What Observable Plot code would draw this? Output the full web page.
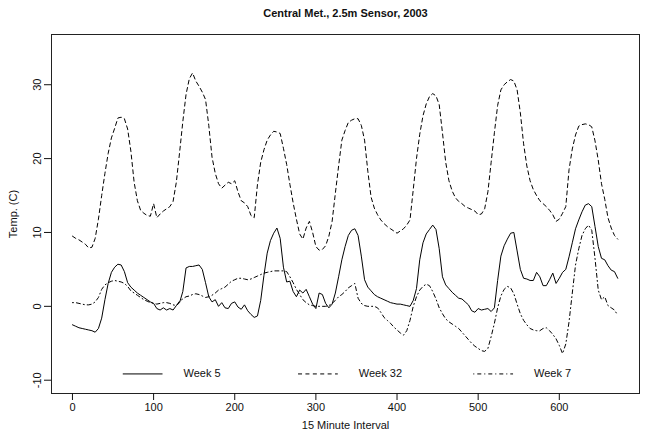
<!DOCTYPE html>
<html>
<head>
<meta charset="utf-8">
<script src="https://cdn.jsdelivr.net/npm/d3@7"></script>
<script src="https://cdn.jsdelivr.net/npm/@observablehq/plot@0.6"></script>
<style>
  html, body { margin: 0; padding: 0; background: #fff; }
  #chart svg { display: block; }
</style>
</head>
<body>
<div id="chart"></div>
<script>
// 15-minute interval index (sampled every 4 intervals)
const intervals = [
  0,4,8,12,16,20,24,28,32,36, 40,44,48,52,56,60,64,68,72,76,
  80,84,88,92,96,100,104,108,112,116, 120,124,128,132,136,140,144,148,152,156,
  160,164,168,172,176,180,184,188,192,196, 200,204,208,212,216,220,224,228,232,236,
  240,244,248,252,256,260,264,268,272,276, 280,284,288,292,296,300,304,308,312,316,
  320,324,328,332,336,340,344,348,352,356, 360,364,368,372,376,380,384,388,392,396,
  400,404,408,412,416,420,424,428,432,436, 440,444,448,452,456,460,464,468,472,476,
  480,484,488,492,496,500,504,508,512,516, 520,524,528,532,536,540,544,548,552,556,
  560,564,568,572,576,580,584,588,592,596, 600,604,608,612,616,620,624,628,632,636,
  640,644,648,652,656,660,664,668,672];

const week5 = [
  -2.5,-2.7,-2.9,-3.0,-3.1,-3.2,-3.3,-3.5,-3.0,-1.6,
  0.9,3.1,4.6,5.3,5.7,5.6,4.7,3.2,2.6,2.2,
  1.8,1.5,1.2,0.9,0.6,0.4,-0.3,-0.5,-0.2,-0.5,
  -0.3,-0.5,0.1,0.5,2.0,5.2,5.4,5.4,5.5,5.6,
  5.0,3.2,1.3,0.6,0.9,0.0,0.5,-0.2,-0.3,0.4,
  0.6,-0.1,-0.4,0.2,-0.6,-1.1,-1.5,-1.3,0.8,4.2,
  7.2,8.9,9.9,10.6,9.2,5.3,3.3,3.4,2.0,1.3,
  2.2,1.8,2.3,1.3,0.3,-0.3,1.8,1.6,0.4,-0.2,
  0.3,1.8,4.0,6.3,8.1,9.6,10.3,10.5,9.6,6.8,
  3.6,2.6,2.1,1.6,1.3,1.1,0.9,0.7,0.5,0.4,
  0.3,0.3,0.2,0.1,0.0,0.8,2.4,6.3,8.6,9.8,
  10.4,11.0,10.4,7.8,4.0,2.9,2.4,1.9,1.5,1.1,
  1.0,0.6,0.2,-0.6,-0.8,-0.3,-0.5,-0.4,-0.3,-0.7,
  -0.2,3.5,6.8,8.2,9.1,9.9,10.0,7.5,5.0,3.8,
  3.7,3.5,3.5,4.6,4.0,2.8,2.8,3.6,4.5,3.1,
  3.8,4.6,5.0,6.7,8.6,10.5,11.7,12.8,13.7,13.9,
  13.5,10.8,8.1,6.5,6.3,5.5,4.9,4.7,3.8];

const week32 = [
  9.5,9.2,9.0,8.7,8.4,7.9,8.0,9.2,11.8,15.0,
  18.0,20.7,22.8,24.1,25.5,25.6,25.4,24.0,21.0,16.8,
  14.3,13.0,12.6,12.3,12.2,13.9,12.0,12.5,12.9,13.2,
  13.5,14.2,16.8,20.8,25.0,28.7,30.8,31.6,30.5,29.8,
  29.0,28.0,24.5,20.2,18.0,16.6,16.0,16.4,16.8,16.6,
  17.0,15.5,14.3,14.0,13.5,12.3,12.0,16.5,19.5,21.2,
  22.5,23.2,23.7,23.6,23.4,21.4,19.2,16.5,14.0,11.8,
  9.8,9.1,10.6,11.5,10.0,8.1,7.6,7.7,8.2,9.5,
  11.5,15.3,19.0,22.5,23.8,24.9,25.2,25.4,25.4,24.5,
  22.5,18.3,14.8,13.3,12.4,11.7,11.2,10.8,10.5,10.2,
  9.9,10.2,10.5,11.0,11.7,15.8,20.0,23.3,25.8,27.4,
  28.4,28.8,28.5,27.3,23.5,19.5,17.0,15.6,14.7,14.2,
  13.9,13.5,13.3,13.1,12.9,12.4,12.5,13.2,15.5,19.5,
  23.5,27.2,29.3,30.0,30.4,30.7,30.5,29.3,26.2,22.0,
  19.0,17.0,15.8,15.0,14.3,13.9,13.5,13.0,12.4,11.5,
  11.8,12.6,13.5,18.5,21.3,23.2,24.4,24.6,24.7,24.6,
  24.3,22.4,19.8,16.6,14.5,12.0,10.6,9.6,9.1];

const week7 = [
  0.5,0.5,0.4,0.3,0.2,0.2,0.3,0.6,1.2,2.3,
  2.9,3.2,3.4,3.5,3.4,3.3,3.1,2.7,2.1,1.8,
  1.5,1.2,0.9,0.7,0.5,0.4,0.3,0.4,0.5,0.5,
  0.4,0.2,0.1,0.7,1.0,1.3,1.4,1.6,1.7,1.6,
  1.4,1.2,1.3,1.5,1.8,2.2,2.4,2.6,3.0,3.4,
  3.6,3.8,3.8,3.7,3.6,3.7,3.9,4.1,4.3,4.5,
  4.6,4.7,4.8,4.8,4.8,4.8,4.7,4.0,3.2,2.3,
  1.6,0.9,0.5,0.2,0.1,0.0,0.0,0.0,0.0,0.1,
  0.4,0.8,1.3,1.6,2.0,2.5,2.8,3.1,1.1,0.4,
  0.1,0.0,0.0,0.0,-0.2,-0.8,-1.5,-1.9,-2.3,-2.8,
  -3.2,-3.6,-3.9,-3.3,-1.9,0.0,1.3,2.2,2.7,3.0,
  2.8,2.0,1.0,-0.2,-1.0,-1.7,-2.1,-2.4,-2.7,-3.0,
  -3.5,-4.0,-4.5,-5.0,-5.4,-5.7,-6.0,-6.1,-5.7,-4.1,
  -2.3,-0.2,1.4,2.3,2.7,2.5,1.7,0.3,-1.0,-1.9,
  -2.5,-3.0,-3.2,-3.3,-3.3,-3.0,-2.9,-3.3,-3.8,-4.4,
  -5.3,-6.4,-5.1,-2.1,1.8,5.6,7.8,9.6,10.5,11.0,
  10.3,6.5,2.2,0.9,1.3,0.1,-0.2,-0.5,-1.2];

const seriesNames = ["Week 5", "Week 32", "Week 7"];
const xTicks = [0, 100, 200, 300, 400, 500, 600];
const yTicks = [-10, 0, 10, 20, 30];
const titleText = "Central Met., 2.5m Sensor, 2003";
const xLabel = "15 Minute Interval";
const yLabel = "Temp. (C)";

// legend placement (data units) and styles
const legendStart = [62, 278, 494];
const legendLen = 49;
const legendY = -9.15;
const dashes = { "Week 5": null, "Week 32": "4,3.4", "Week 7": "1,3,4,3" };

const seriesValues = { "Week 5": week5, "Week 32": week32, "Week 7": week7 };
const rows = seriesNames.map(name =>
  intervals.map((x, i) => ({ series: name, interval: x, temp: seriesValues[name][i] })));

const legendRows = seriesNames.map((name, i) => ({
  series: name, x1: legendStart[i], x2: legendStart[i] + legendLen, y: legendY
}));

const font = "'Liberation Sans', Arial, Helvetica, sans-serif";

const marks = [
  Plot.frame({ stroke: "#222", strokeWidth: 1 }),
  Plot.axisX({ ticks: xTicks, tickSize: 7, tickPadding: 3, fontSize: 11, tickFormat: d => String(d), label: null }),
  Plot.axisY({ ticks: yTicks, tickSize: 7, tickFormat: () => "", label: null }),
  Plot.text(yTicks, { frameAnchor: "left", y: d => d, text: d => String(d), rotate: -90,
    dx: -11, lineAnchor: "bottom", textAnchor: "middle", fontSize: 11, fill: "#111" }),
  Plot.text([yLabel], { frameAnchor: "left", dx: -38, rotate: -90, lineAnchor: "middle", textAnchor: "middle", fontSize: 11, fill: "#111" }),
  Plot.text([xLabel], { frameAnchor: "bottom", dy: 32, lineAnchor: "middle", fontSize: 11, fill: "#111" }),
  Plot.text([titleText], { frameAnchor: "top", dy: -21, lineAnchor: "middle", fontSize: 11, fontWeight: "bold", fill: "#111" })
];

seriesNames.forEach((name, i) => {
  const dash = dashes[name];
  const opts = { x: "interval", y: "temp", stroke: "#000", strokeWidth: 1 };
  if (dash) opts.strokeDasharray = dash;
  marks.push(Plot.line(rows[i], opts));
  const lopts = { x1: "x1", x2: "x2", y1: "y", y2: "y", stroke: "#000", strokeWidth: 1 };
  if (dash) lopts.strokeDasharray = dash;
  marks.push(Plot.link([legendRows[i]], lopts));
  marks.push(Plot.text([legendRows[i]], { x: "x2", y: "y", text: "series", dx: 21, textAnchor: "start", fontSize: 11, fill: "#111" }));
});

const chart = Plot.plot({
  width: 648,
  height: 432,
  marginLeft: 51,
  marginRight: 9,
  marginTop: 34,
  marginBottom: 39,
  style: { fontFamily: font, fontSize: "11px", background: "#fff", color: "#111" },
  x: { domain: [-25.84, 698.84] },
  y: { domain: [-11.8, 36.8] },
  marks
});
document.getElementById("chart").appendChild(chart);
</script>
</body>
</html>
